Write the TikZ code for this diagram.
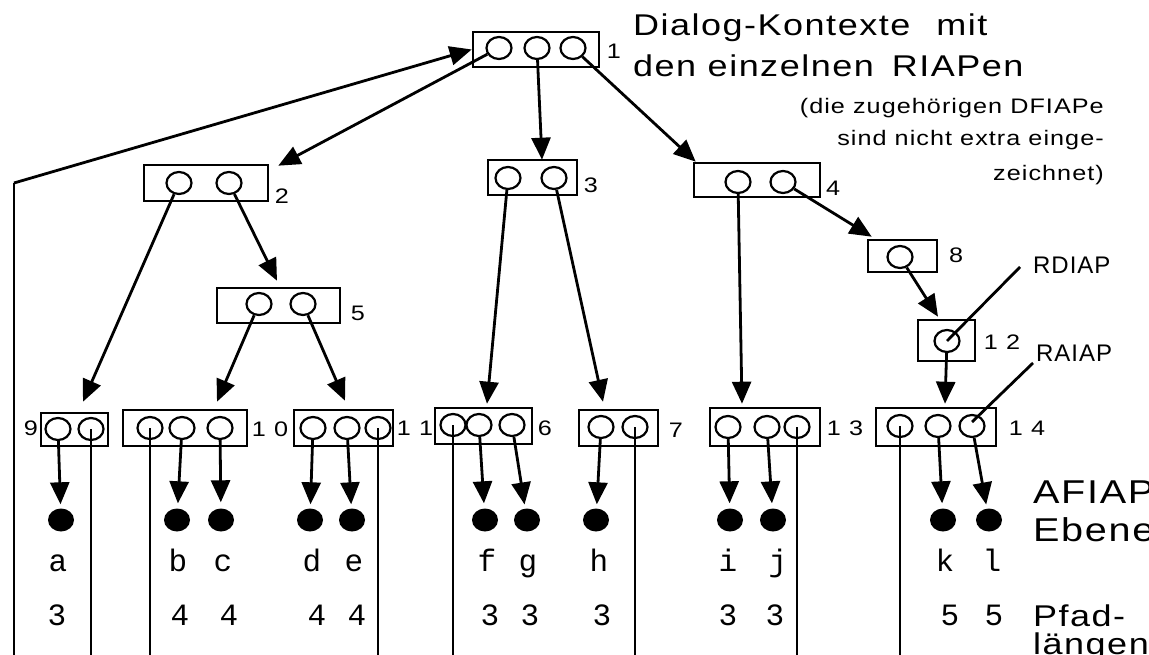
\documentclass[tikz,border=0pt]{standalone}
\usepackage{fontspec}
\setmainfont{Liberation Sans}[FakeStretch=1.2,LetterSpace=5]
\setmonofont{Liberation Mono}
\newfontfamily\tightsans{Liberation Sans}[LetterSpace=4]
\usetikzlibrary{arrows.meta,shapes.geometric}
\begin{document}
\begin{tikzpicture}[x=1pt,y=-1pt,
  box/.style={draw,line width=2.6pt,inner sep=0,rectangle},
  ap/.style={draw,ellipse,line width=2.2pt,minimum width=25pt,minimum height=22pt,inner sep=0},
  leaf/.style={fill,ellipse,minimum width=26pt,minimum height=23pt,inner sep=0},
  con/.style={line width=2.8pt,-{Triangle[length=22pt,width=19pt]}},
  wire/.style={line width=2.8pt},
  num/.style={font=\fontsize{21}{21}\selectfont,inner sep=0},
  lab/.style={font=\fontsize{31}{31}\selectfont\ttfamily,inner sep=0,anchor=base},
]
\path[use as bounding box] (0,0) rectangle (1149,655);
\clip (0,0) rectangle (1149,655);
\coordinate (bot) at (0,660);
\coordinate (L0) at (14,183);

% boxes
\node[box,minimum width=126pt,minimum height=35pt] (b1) at (536,49.5) {};
\node[box,minimum width=124pt,minimum height=36pt] (b2) at (206,183) {};
\node[box,minimum width=89pt,minimum height=35pt] (b3) at (532.5,177.5) {};
\node[box,minimum width=126pt,minimum height=34pt] (b4) at (757,180) {};
\node[box,minimum width=123pt,minimum height=35pt] (b5) at (278.5,305.5) {};
\node[box,minimum width=69pt,minimum height=32pt] (b8) at (902.5,256) {};
\node[box,minimum width=57pt,minimum height=41pt] (b12) at (946.5,340.5) {};
\node[box,minimum width=67pt,minimum height=33pt] (b9) at (74.5,429.5) {};
\node[box,minimum width=124pt,minimum height=36pt] (b10) at (185,428) {};
\node[box,minimum width=99pt,minimum height=36pt] (b11) at (343.5,428) {};
\node[box,minimum width=97pt,minimum height=36pt] (b6) at (483.5,426) {};
\node[box,minimum width=79pt,minimum height=36pt] (b7) at (618.5,428) {};
\node[box,minimum width=110pt,minimum height=38pt] (b13) at (765,427) {};
\node[box,minimum width=120pt,minimum height=38pt] (b14) at (936,427) {};

% access points
\node[ap] (b1c1) at (499,48) {};
\node[ap] (b1c2) at (537,48) {};
\node[ap] (b1c3) at (573,48) {};
\node[ap] (b2c1) at (179,183) {};
\node[ap] (b2c2) at (229,183) {};
\node[ap] (b3c1) at (508,178) {};
\node[ap] (b3c2) at (554,178) {};
\node[ap] (b4c1) at (738,182) {};
\node[ap] (b4c2) at (783,182) {};
\node[ap] (b5c1) at (259,304) {};
\node[ap] (b5c2) at (303,304) {};
\node[ap] (b8c1) at (900,257) {};
\node[ap] (b12c1) at (947,341) {};
\node[ap] (b9c1) at (58,429) {};
\node[ap] (b9c2) at (91,429) {};
\node[ap] (b10c1) at (150,428) {};
\node[ap] (b10c2) at (182,428) {};
\node[ap] (b10c3) at (220,428) {};
\node[ap] (b11c1) at (313,428) {};
\node[ap] (b11c2) at (347,428) {};
\node[ap] (b11c3) at (378,428) {};
\node[ap] (b6c1) at (453,425) {};
\node[ap] (b6c2) at (479,425) {};
\node[ap] (b6c3) at (512,425) {};
\node[ap] (b7c1) at (601,427) {};
\node[ap] (b7c2) at (635,427) {};
\node[ap] (b13c1) at (728,427) {};
\node[ap] (b13c2) at (767,427) {};
\node[ap] (b13c3) at (797,427) {};
\node[ap] (b14c1) at (900,426) {};
\node[ap] (b14c2) at (938,426) {};
\node[ap] (b14c3) at (972,426) {};

% box numbers
\node[num] (n1) at (614,51) {1};
\node[num] (n2) at (282,196) {2};
\node[num] (n3) at (591,185) {3};
\node[num] (n4) at (833,188) {4};
\node[num] (n5) at (358,313) {5};
\node[num] (n8) at (956,255) {8};
\node[num] (n12) at (1002,342) {1 2};
\node[num] (n9) at (31,428) {9};
\node[num] (n10) at (270,429) {1 0};
\node[num] (n11) at (415,428) {1 1};
\node[num] (n6) at (545,428) {6};
\node[num] (n7) at (676,430) {7};
\node[num] (n13) at (845,428) {1 3};
\node[num] (n14) at (1027,428) {1 4};

% leaves
\node[leaf] (da) at (61,520) {};
\node[leaf] (db) at (177,520) {};
\node[leaf] (dc) at (221,520) {};
\node[leaf] (dd) at (310,520) {};
\node[leaf] (de) at (352,520) {};
\node[leaf] (df) at (485,520) {};
\node[leaf] (dg) at (527,520) {};
\node[leaf] (dh) at (596,520) {};
\node[leaf] (di) at (730,520) {};
\node[leaf] (dj) at (773,520) {};
\node[leaf] (dk) at (943,520) {};
\node[leaf] (dl) at (989,520) {};

% leaf letters
\node[lab] (la) at (58,571) {a};
\node[lab] (lb) at (178,571) {b};
\node[lab] (lc) at (223,571) {c};
\node[lab] (ld) at (312,571) {d};
\node[lab] (le) at (354,571) {e};
\node[lab] (lf) at (487,571) {f};
\node[lab] (lg) at (528,571) {g};
\node[lab] (lh) at (599,571) {h};
\node[lab] (li) at (728,571) {i};
\node[lab] (lj) at (778,571) {j};
\node[lab] (lk) at (945,571) {k};
\node[lab] (ll) at (992,571) {l};

% path lengths
\node[lab] (pa) at (57,625) {3};
\node[lab] (pb) at (180,625) {4};
\node[lab] (pc) at (229,625) {4};
\node[lab] (pd) at (317,625) {4};
\node[lab] (pe) at (357,625) {4};
\node[lab] (pf) at (490,625) {3};
\node[lab] (pg) at (530,625) {3};
\node[lab] (ph) at (602,625) {3};
\node[lab] (pi) at (728,625) {3};
\node[lab] (pj) at (775,625) {3};
\node[lab] (pk) at (950,625) {5};
\node[lab] (pl) at (994,625) {5};

% texts
\node[anchor=north west,inner sep=0,align=left,font=\fontsize{30}{41}\selectfont] (title) at (633,14)
  {Dialog-Kontexte\hspace{26pt}mit\\den einzelnen\hspace{18pt}RIAPen};
\node[anchor=north east,inner sep=0,align=right,font=\fontsize{21}{32}\selectfont] (note) at (1104,98)
  {(die zugehörigen DFIAPe\\sind nicht extra einge-\\[3pt]zeichnet)};
\node[anchor=west,inner sep=0,font=\fontsize{24}{24}\tightsans] (rdiap) at (1033,265) {RDIAP};
\node[anchor=west,inner sep=0,font=\fontsize{24}{24}\tightsans] (raiap) at (1036,353) {RAIAP};
\node[anchor=north west,inner sep=0,align=left,font=\fontsize{33}{38}\selectfont] (afiap) at (1033,481) {AFIAP-\\Ebene};
\node[anchor=north west,inner sep=0,align=left,font=\fontsize{30}{28}\selectfont] (pfad) at (1033,605) {Pfad-\\längen};

% tree connectors
\draw[wire] (L0) -- (L0 |- bot);
\draw[con] (L0) -- (b1.west);
\draw[con] (b1c1) -- ([shift={(9,2)}]b2.north east);
\draw[con] (b1c2) -- ([shift={(9.5,1)}]b3.north);
\draw[con] (b1c3) -- ([shift={(3,0)}]b4.north west);
\draw[con] (b2c1) -- ([shift={(8.5,-10)}]b9.north);
\draw[con] (b2c2) -- ([shift={(-1.5,-6)}]b5.north);
\draw[con] (b5c1) -- ([shift={(32,-7)}]b10.north);
\draw[con] (b5c2) -- ([shift={(1.5,-8)}]b11.north);
\draw[con] (b3c1) -- ([shift={(3.5,-3)}]b6.north);
\draw[con] (b3c2) -- ([shift={(-15.5,-7)}]b7.north);
\draw[con] (b4c1) -- ([shift={(-23,-3)}]b13.north);
\draw[con] (b4c2) -- ([shift={(5,-2)}]b8.north west);
\draw[con] (b8c1) -- ([shift={(-8.5,-2)}]b12.north);
\draw[con] (b12c1) -- ([shift={(9,-3)}]b14.north);

% to leaves
\draw[con,shorten >=4pt] (b9c1) -- (da);
\draw[con,shorten >=5pt] (b10c2) -- (db);
\draw[con,shorten >=6pt] (b10c3) -- (dc);
\draw[con,shorten >=4pt] (b11c1) -- (dd);
\draw[con,shorten >=4pt] (b11c2) -- (de);
\draw[con,shorten >=5pt] (b6c2) -- (df);
\draw[con,shorten >=4pt] (b6c3) -- (dg);
\draw[con,shorten >=4pt] (b7c1) -- (dh);
\draw[con,shorten >=5pt] (b13c1) -- (di);
\draw[con,shorten >=5pt] (b13c2) -- (dj);
\draw[con,shorten >=5pt] (b14c2) -- (dk);
\draw[con,shorten >=4pt] (b14c3) -- (dl);

% long vertical lines
\draw[wire] (b9c2.center) -- (b9c2.center |- bot);
\draw[wire] (b10c1.center) -- (b10c1.center |- bot);
\draw[wire] (b11c3.center) -- (b11c3.center |- bot);
\draw[wire] (b6c1.center) -- (b6c1.center |- bot);
\draw[wire] (b7c2.center) -- (b7c2.center |- bot);
\draw[wire] (b13c3.center) -- (b13c3.center |- bot);
\draw[wire] (b14c1.center) -- (b14c1.center |- bot);

% callouts
\draw[wire] ([shift={(-13,2)}]rdiap.west) -- (b12c1.center);
\draw[wire] ([shift={(-3,10)}]raiap.west) -- ([shift={(0,-4)}]b14c3.center);
\end{tikzpicture}
\end{document}
